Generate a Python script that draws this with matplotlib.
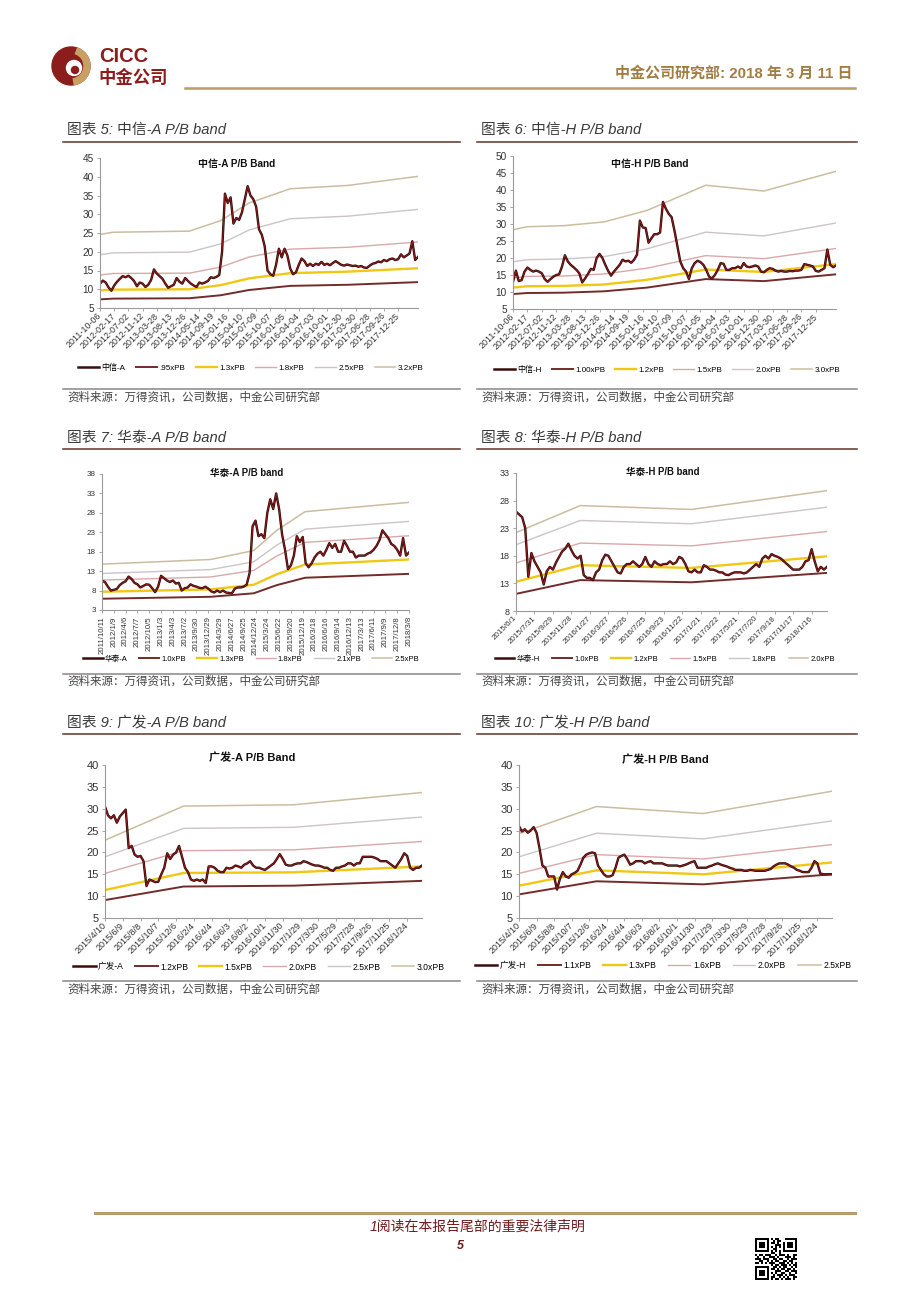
import numpy as np
import matplotlib
matplotlib.use('Agg')
import matplotlib.pyplot as plt
from matplotlib.lines import Line2D
from matplotlib.patches import Circle, Wedge
import matplotlib.patheffects as pe

plt.rcParams['font.family'] = ['Liberation Sans', 'Noto Sans CJK SC', 'DejaVu Sans']
plt.rcParams['axes.unicode_minus'] = False

W, H = 920, 1302

# ---------------- data ----------------
citic_ticks = ['2011-10-06', '2012-02-17', '2012-07-02', '2012-11-12', '2013-03-28', '2013-08-13',
               '2013-12-26', '2014-05-14', '2014-09-19', '2015-01-16', '2015-04-10', '2015-07-09',
               '2015-10-07', '2016-01-05', '2016-04-04', '2016-07-03', '2016-10-01', '2016-12-30',
               '2017-03-30', '2017-06-28', '2017-09-26', '2017-12-25']

citic_a_price = [11.5, 12.3, 11.8, 10.5, 9.6, 11.0, 12.0, 12.8, 13.5, 13.2,
                 13.6, 13.0, 12.2, 10.8, 11.8, 11.5, 10.6, 11.2, 12.5, 15.3,
                 14.2, 13.5, 12.8, 11.5, 10.4, 10.8, 11.2, 13.0, 12.0, 11.5,
                 13.0, 12.2, 11.5, 11.0, 10.6, 11.8, 11.5, 11.8, 12.2, 13.2,
                 13.0, 13.3, 13.8, 20.0, 35.5, 33.0, 34.5, 27.5, 29.0, 28.5,
                 30.5, 34.0, 37.5, 35.0, 34.0, 32.0, 26.0, 24.5, 21.5, 15.0,
                 14.0, 13.6, 16.5, 20.8, 18.5, 20.8, 19.0, 15.5, 14.0, 14.5,
                 16.5, 18.2, 17.5, 16.2, 16.8, 16.2, 16.8, 16.5, 17.3, 16.5,
                 16.8, 16.4, 17.0, 17.5, 17.0, 16.5, 16.3, 16.6, 16.4, 16.2,
                 16.3, 16.0, 16.2, 15.8, 15.7, 16.3, 16.8, 17.0, 17.4, 17.2,
                 17.8, 17.5, 18.0, 18.2, 17.8, 18.0, 19.3, 18.5, 19.0, 19.5,
                 22.8, 17.8, 18.6]
citic_a_band_u = [0, 0.9, 6.3, 8.5, 10.5, 13.4, 17.5, 22.4]
citic_a_095 = [7.3, 7.5, 7.6, 8.4, 9.8, 10.9, 11.2, 11.9]
citic_a_130 = [9.7, 9.9, 10.0, 11.1, 12.9, 14.3, 14.7, 15.6]
citic_a_180 = [13.8, 14.2, 14.3, 15.9, 18.6, 20.7, 21.2, 22.6]
citic_a_250 = [19.2, 19.7, 19.9, 22.1, 25.8, 28.8, 29.5, 31.3]
citic_a_320 = [24.6, 25.2, 25.5, 28.3, 33.0, 36.8, 37.7, 40.1]

citic_h_price = [13.0, 16.3, 13.2, 13.5, 16.0, 17.2, 16.5, 16.0, 16.3, 16.0,
                 15.5, 13.8, 13.0, 13.8, 14.5, 15.0, 15.2, 17.5, 20.8, 19.0,
                 18.0, 17.3, 16.5, 15.5, 12.8, 14.0, 15.3, 16.8, 16.5, 20.0,
                 21.2, 20.0, 18.0, 16.2, 14.8, 16.0, 17.0, 18.0, 19.5, 19.0,
                 19.2, 18.6, 19.5, 21.0, 31.0, 29.0, 28.8, 24.5, 25.8, 27.0,
                 27.0, 27.5, 36.5, 34.5, 33.0, 32.0, 28.0, 23.5, 19.0, 17.0,
                 16.0, 13.8, 17.0, 18.5, 19.2, 18.8, 18.0, 16.5, 14.5, 14.0,
                 15.0, 16.5, 18.5, 18.3, 16.5, 16.5, 17.0, 17.0, 17.5, 17.0,
                 18.5, 17.5, 17.3, 17.5, 17.8, 17.5, 16.0, 15.8, 16.5, 17.0,
                 16.8, 16.3, 16.0, 16.2, 16.0, 16.0, 16.2, 16.1, 16.3, 16.3,
                 16.5, 18.2, 18.0, 17.8, 17.5, 16.2, 16.0, 16.5, 17.0, 22.5,
                 18.0, 17.3, 17.8]
citic_h_band_u = [0, 0.97, 3.5, 6.3, 9.3, 13.36, 17.4, 22.4]
citic_h_100 = [9.4, 9.7, 9.8, 10.2, 11.3, 13.8, 13.2, 15.2]
citic_h_120 = [11.3, 11.7, 11.8, 12.2, 13.6, 16.6, 15.9, 18.2]
citic_h_150 = [14.1, 14.6, 14.7, 15.3, 17.0, 20.7, 19.8, 22.8]
citic_h_200 = [18.9, 19.5, 19.7, 20.4, 22.7, 27.6, 26.5, 30.3]
citic_h_300 = [28.3, 29.2, 29.5, 30.6, 34.0, 41.4, 39.7, 45.5]

htsc_a_ticks = ['2011/10/11', '2012/1/9', '2012/4/6', '2012/7/7', '2012/10/5', '2013/1/3', '2013/4/3',
                '2013/7/2', '2013/9/30', '2013/12/29', '2014/3/29', '2014/6/27', '2014/9/25',
                '2014/12/24', '2015/3/24', '2015/6/22', '2015/9/20', '2015/12/19', '2016/3/18',
                '2016/6/16', '2016/9/14', '2016/12/13', '2017/3/13', '2017/6/11', '2017/9/9',
                '2017/12/8', '2018/3/8']
htsc_a_price = [10.5, 10.2, 9.0, 8.0, 8.2, 8.4, 9.4, 10.0, 10.4, 11.6, 11.0, 10.0,
                9.6, 8.8, 9.2, 9.6, 9.5, 8.6, 7.6, 9.0, 11.8, 11.2, 10.6, 10.2,
                10.6, 9.8, 10.0, 8.0, 8.6, 8.8, 9.6, 9.2, 9.0, 8.7, 8.6, 9.0,
                8.5, 7.8, 7.5, 8.0, 7.6, 8.0, 7.5, 7.4, 7.3, 8.5, 8.8, 8.8,
                9.0, 9.5, 12.5, 24.5, 26.0, 22.0, 22.5, 21.5, 28.0, 31.5, 29.0, 33.0,
                29.0, 22.5, 18.5, 13.5, 14.5, 17.0, 22.0, 20.5, 21.8, 15.0, 14.0, 15.0,
                16.5, 17.5, 18.0, 17.0, 18.5, 20.2, 19.0, 20.0, 18.0, 18.0, 20.8, 19.5,
                18.0, 18.0, 16.5, 17.0, 17.0, 17.0, 17.5, 17.8, 18.5, 19.5, 21.0, 23.5,
                22.5, 21.5, 20.0, 19.5, 18.5, 17.0, 21.5, 17.0, 17.8]
htsc_a_band_u = [0, 9.2, 12.85, 14.8, 17.2, 26.0]
htsc_a_100 = [5.9, 6.4, 7.3, 9.4, 11.3, 12.3]
htsc_a_130 = [7.7, 8.3, 9.5, 12.2, 14.7, 16.0]
htsc_a_180 = [10.7, 11.5, 13.2, 16.9, 20.4, 22.1]
htsc_a_210 = [12.4, 13.4, 15.4, 19.7, 23.8, 25.8]
htsc_a_250 = [14.8, 16.0, 18.3, 23.5, 28.3, 30.7]

htsc_h_ticks = ['2015/6/1', '2015/7/31', '2015/9/29', '2015/11/28', '2016/1/27', '2016/3/27',
                '2016/5/26', '2016/7/25', '2016/9/23', '2016/11/22', '2017/1/21', '2017/3/22',
                '2017/5/21', '2017/7/20', '2017/9/18', '2017/11/17', '2018/1/16']
htsc_h_price = [26.0, 25.5, 25.0, 23.0, 14.2, 18.5, 17.0, 16.0, 15.0, 12.8, 15.2, 16.0,
                15.5, 16.8, 17.8, 18.8, 19.3, 20.2, 19.0, 18.0, 17.5, 18.0, 14.5, 14.0,
                14.0, 13.6, 15.0, 15.5, 17.2, 18.2, 18.0, 17.0, 16.0, 15.0, 14.8, 16.0,
                16.5, 16.5, 17.0, 16.5, 16.0, 16.5, 17.8, 16.5, 16.0, 17.0, 16.5, 16.3,
                16.5, 16.5, 17.0, 16.5, 16.8, 17.8, 17.5, 16.5, 15.2, 15.0, 15.5, 15.0,
                15.0, 16.3, 16.0, 15.5, 15.5, 15.3, 15.0, 15.0, 14.6, 14.5, 14.8, 15.0,
                15.0, 15.0, 14.8, 15.0, 15.5, 16.0, 16.5, 16.0, 17.5, 18.0, 17.5, 18.3,
                18.0, 17.8, 17.5, 17.0, 16.5, 16.0, 15.5, 15.5, 15.5, 16.0, 17.0, 17.2,
                19.2, 17.0, 15.2, 16.0, 15.5, 16.0]
htsc_h_band_u = [0, 3.48, 9.5, 16.83]
htsc_h_100 = [11.1, 13.6, 13.2, 14.9]
htsc_h_120 = [13.3, 16.3, 15.8, 17.9]
htsc_h_150 = [16.7, 20.3, 19.8, 22.4]
htsc_h_180 = [20.0, 24.4, 23.8, 26.8]
htsc_h_200 = [22.2, 27.1, 26.4, 29.8]

gf_ticks = ['2015/4/10', '2015/6/9', '2015/8/8', '2015/10/7', '2015/12/6', '2016/2/4', '2016/4/4',
            '2016/6/3', '2016/8/2', '2016/10/1', '2016/11/30', '2017/1/29', '2017/3/30',
            '2017/5/29', '2017/7/28', '2017/9/26', '2017/11/25', '2018/1/24']
gf_a_price = [30.5, 28.5, 27.8, 28.5, 26.8, 28.2, 29.0, 29.8, 21.0, 21.5, 19.5, 19.0,
              19.2, 18.0, 12.3, 13.8, 13.5, 13.2, 13.3, 15.0, 16.5, 19.8, 18.5, 19.5,
              20.0, 21.5, 19.0, 16.5, 15.5, 13.8, 13.5, 13.8, 13.5, 13.8, 13.0, 16.8,
              16.8, 16.5, 15.8, 15.5, 15.5, 16.5, 16.3, 16.5, 17.0, 16.8, 16.5, 17.2,
              17.5, 18.0, 17.0, 16.5, 16.5, 16.2, 16.0, 16.5, 17.0, 17.5, 18.5, 19.6,
              18.5, 17.2, 17.0, 17.0, 17.3, 17.5, 17.5, 18.0, 17.8, 17.5, 17.2, 17.0,
              17.0, 16.8, 16.5, 16.5, 16.0, 15.8, 16.5, 16.5, 16.8, 17.0, 17.5, 17.5,
              17.0, 17.5, 17.5, 19.0, 19.0, 19.0, 19.0, 18.8, 18.5, 18.0, 18.0, 18.0,
              17.5, 17.0, 16.5, 17.5, 18.5, 19.8, 19.2, 16.5, 16.0, 16.5, 16.5, 17.0]
gf_a_band_u = [0, 4.42, 10.62, 17.83]
gf_a_120 = [9.1, 12.2, 12.4, 13.5]
gf_a_150 = [11.4, 15.3, 15.45, 16.8]
gf_a_200 = [15.2, 20.4, 20.6, 22.5]
gf_a_250 = [19.0, 25.5, 25.75, 28.1]
gf_a_300 = [22.8, 30.6, 30.9, 33.7]

gf_h_price = [26.0, 24.8, 25.3, 24.5, 25.0, 25.8, 24.5, 21.0, 17.0, 16.5, 14.5, 14.5,
              14.5, 11.5, 14.0, 15.5, 14.5, 14.2, 15.0, 15.3, 15.8, 17.2, 18.8, 19.5,
              19.8, 20.0, 19.8, 17.0, 16.0, 15.0, 14.5, 14.5, 14.8, 16.5, 18.8, 19.2,
              19.5, 18.5, 17.2, 17.5, 18.0, 18.0, 18.0, 17.5, 17.8, 18.0, 17.5, 17.5,
              17.5, 17.5, 17.2, 17.0, 17.0, 17.0, 17.0, 16.8, 17.0, 17.2, 17.5, 17.8,
              18.0, 16.5, 16.5, 16.5, 16.5, 16.8, 17.0, 17.3, 17.5, 17.2, 17.0, 16.8,
              16.5, 16.3, 16.0, 16.0, 16.0, 15.8, 15.8, 16.0, 15.9, 15.8, 15.8, 15.8,
              15.8, 16.0, 16.2, 16.8, 17.2, 17.5, 17.5, 17.5, 17.2, 16.8, 16.5, 16.0,
              15.8, 15.5, 15.5, 15.5, 16.5, 18.0, 17.5, 15.2, 15.0, 15.0, 15.0, 15.0]
gf_h_band_u = [0, 4.42, 10.5, 17.83]
gf_h_110 = [10.4, 13.4, 12.7, 15.0]
gf_h_130 = [12.4, 15.9, 15.0, 17.7]
gf_h_160 = [15.2, 19.5, 18.5, 21.8]
gf_h_200 = [19.0, 24.4, 23.1, 27.2]
gf_h_250 = [24.3, 30.5, 28.9, 34.0]

# ---------------- styles ----------------
BAND_COLORS = ['#742b2b', '#f0c814', '#d9a9a9', '#cbc5c5', '#cbbd9f']
BAND_LW = [1.4, 1.7, 1.0, 1.0, 1.1]
PRICE_LEG = '#3a0d0d'
SOURCE = '资料来源：万得资讯，公司数据，中金公司研究部'

fig = plt.figure(figsize=(W / 100, H / 100), dpi=100)
bg = fig.add_axes([0, 0, 1, 1])
bg.set_xlim(0, W)
bg.set_ylim(H, 0)
bg.axis('off')


def draw_chart(box, price, per, ticks, band_u, bands, names, ylim, ystep,
               title, title_xy, leg_xy, rot, xfs, yfs, tfs, lfs, colsp):
    l, r, t, b = box
    ax = fig.add_axes([l / W, 1 - b / H, (r - l) / W, (b - t) / H])
    ax.set_facecolor('none')
    x = np.arange(len(price))
    bx = np.array(band_u) * per
    for vals, c, lw in zip(bands, BAND_COLORS, BAND_LW):
        ax.plot(bx, vals, color=c, lw=lw)
    ax.plot(x, price, color='#931d1d', lw=0.7,
            path_effects=[pe.Stroke(linewidth=1.7, foreground='#2e0707'), pe.Normal()])
    ax.set_xlim(0, len(price) - 1)
    ax.set_ylim(*ylim)
    ax.set_yticks(np.arange(ylim[0], ylim[1] + 0.1, ystep))
    ax.set_xticks(np.arange(len(ticks)) * per)
    ax.set_xticklabels(ticks, rotation=rot, ha='right', va='center',
                       rotation_mode='anchor', fontsize=xfs, color='#333333')
    ax.tick_params(axis='y', labelsize=yfs, labelcolor='#333333')
    ax.tick_params(direction='out', length=2.5, width=0.6, color='#9a9a9a', pad=2)
    for s in ['top', 'right']:
        ax.spines[s].set_visible(False)
    for s in ['left', 'bottom']:
        ax.spines[s].set_color('#9a9a9a')
        ax.spines[s].set_linewidth(0.8)
    bg.text(title_xy[0], title_xy[1], title, fontsize=tfs, fontweight='bold',
            ha='center', va='center', color='#111111')
    handles = [Line2D([0], [0], color=PRICE_LEG, lw=1.8)]
    handles += [Line2D([0], [0], color=c, lw=lw) for c, lw in zip(BAND_COLORS, BAND_LW)]
    fig.legend(handles, names, loc='center', bbox_to_anchor=(leg_xy[0] / W, 1 - leg_xy[1] / H),
               ncol=6, frameon=False, fontsize=lfs, handlelength=2.6, handletextpad=0.3,
               columnspacing=colsp, borderpad=0, borderaxespad=0)
    return ax


draw_chart((100, 418, 158, 308), citic_a_price, 5, citic_ticks, citic_a_band_u,
           [citic_a_095, citic_a_130, citic_a_180, citic_a_250, citic_a_320],
           ['中信-A', '.95xPB', '1.3xPB', '1.8xPB', '2.5xPB', '3.2xPB'],
           (5, 45), 5, '中信-A P/B Band', (237, 164), (251, 368), 45, 6.4, 7.2, 7.2, 5.8, 1.3)
draw_chart((513, 836, 156, 309), citic_h_price, 5, citic_ticks, citic_h_band_u,
           [citic_h_100, citic_h_120, citic_h_150, citic_h_200, citic_h_300],
           ['中信-H', '1.00xPB', '1.2xPB', '1.5xPB', '2.0xPB', '3.0xPB'],
           (5, 50), 5, '中信-H P/B Band', (650, 164), (667, 370), 45, 6.4, 7.2, 7.2, 5.8, 1.2)
draw_chart((102, 409, 474, 610), htsc_a_price, 4, htsc_a_ticks, htsc_a_band_u,
           [htsc_a_100, htsc_a_130, htsc_a_180, htsc_a_210, htsc_a_250],
           ['华泰-A', '1.0xPB', '1.3xPB', '1.8xPB', '2.1xPB', '2.5xPB'],
           (3, 38), 5, '华泰-A P/B band', (247, 473), (251, 659), 90, 5.6, 5.8, 6.9, 5.5, 1.5)
draw_chart((516, 827, 473, 611), htsc_h_price, 6, htsc_h_ticks, htsc_h_band_u,
           [htsc_h_100, htsc_h_120, htsc_h_150, htsc_h_180, htsc_h_200],
           ['华泰-H', '1.0xPB', '1.2xPB', '1.5xPB', '1.8xPB', '2.0xPB'],
           (8, 33), 5, '华泰-H P/B band', (663, 472), (665, 659), 45, 5.8, 6.5, 6.9, 5.5, 1.6)
draw_chart((105, 422, 765, 918), gf_a_price, 6, gf_ticks, gf_a_band_u,
           [gf_a_120, gf_a_150, gf_a_200, gf_a_250, gf_a_300],
           ['广发-A', '1.2xPB', '1.5xPB', '2.0xPB', '2.5xPB', '3.0xPB'],
           (5, 40), 5, '广发-A P/B Band', (252, 758), (259, 967), 45, 6.5, 8.0, 8.0, 6.2, 1.3)
draw_chart((519, 832, 765, 918), gf_h_price, 6, gf_ticks, gf_h_band_u,
           [gf_h_110, gf_h_130, gf_h_160, gf_h_200, gf_h_250],
           ['广发-H', '1.1xPB', '1.3xPB', '1.6xPB', '2.0xPB', '2.5xPB'],
           (5, 40), 5, '广发-H P/B Band', (665, 760), (663, 966), 45, 6.5, 8.0, 8.0, 6.2, 1.4)

# ---------------- page furniture ----------------
panel_titles = ['图表 5: 中信-A P/B band', '图表 6: 中信-H P/B band',
                '图表 7: 华泰-A P/B band', '图表 8: 华泰-H P/B band',
                '图表 9: 广发-A P/B band', '图表 10: 广发-H P/B band']
rows = [(130, 142, 389, 398), (438, 449, 674, 682), (722, 734, 981, 990)]
cols = [(63, 460), (477, 857)]
for i, (ty, ly, by, sy) in enumerate(rows):
    for j, (x0, x1) in enumerate(cols):
        bg.text(x0 + 4, ty, panel_titles[i * 2 + j], fontsize=10.6, style='italic',
                color='#3a3a3a', ha='left', va='center')
        bg.plot([x0, x1], [ly, ly], color='#5e3328', lw=1.1)
        bg.plot([x0, x1], [by, by], color='#8a8585', lw=1.1)
        bg.text(x0 + 4, sy, SOURCE, fontsize=8.3, style='italic', color='#444444',
                ha='left', va='center')

# header
bg.add_patch(Circle((71, 66), 19, color='#8c1d1d'))
bg.add_patch(Wedge((71, 66), 19, -70, 80, width=6, color='#c9a063'))
bg.add_patch(Circle((74, 68), 7.5, color='white'))
bg.add_patch(Circle((75, 70), 3.5, color='#8c1d1d'))
bg.text(99, 57, 'CICC', fontsize=14.5, fontweight='bold', color='#8c1d1d', ha='left', va='center')
bg.text(98, 77, '中金公司', fontsize=12.5, fontweight='bold', color='#8c1d1d', ha='left', va='center')
bg.text(853, 73, '中金公司研究部: 2018 年 3 月 11 日', fontsize=10.8, fontweight='bold',
        color='#a27d42', ha='right', va='center')
bg.plot([185, 855], [88, 88], color='#b89c6c', lw=1.8)

# footer
bg.plot([95, 855], [1213, 1213], color='#b89c6c', lw=2.2)
bg.text(478, 1227, '1阅读在本报告尾部的重要法律声明', fontsize=10, style='italic',
        color='#6e1a1a', ha='center', va='center')
bg.text(460, 1246, '5', fontsize=9, fontweight='bold', style='italic',
        color='#6e1a1a', ha='center', va='center')

qr_rows = ['111111101011000111111',
           '100000100101100000001',
           '101110101101001011101',
           '101110100011101011101',
           '101110101010101011101',
           '100000100110001000001',
           '111111101010101111111',
           '000000001100100000000',
           '101101110010111010011',
           '010010011101000111010',
           '111011100110110010111',
           '001100101011001101100',
           '110101011100111010101',
           '000000001011011101011',
           '111111100110101100101',
           '100000101101011011010',
           '101110100011100110111',
           '101110101010011001001',
           '101110100101110101110',
           '100000101100101010011',
           '111111101011010111010']
qr = np.array([[int(c) for c in row] for row in qr_rows])
bg.imshow(qr, cmap='gray_r', interpolation='nearest', extent=(755, 797, 1280, 1238),
          aspect='auto')
bg.set_xlim(0, W)
bg.set_ylim(H, 0)

fig.savefig('out.png', dpi=100)
